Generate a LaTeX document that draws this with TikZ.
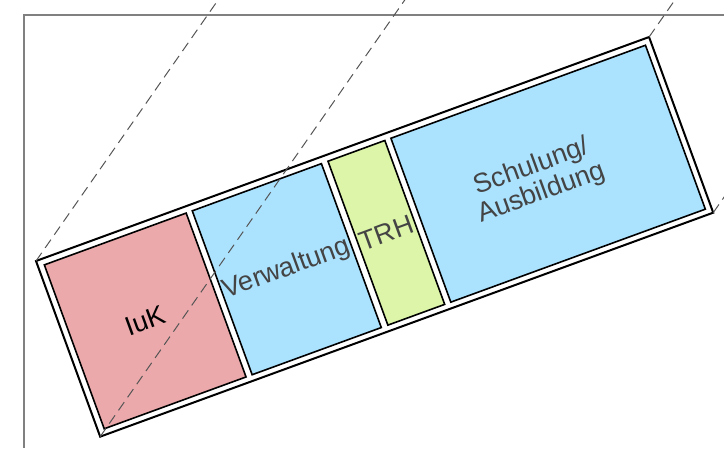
\documentclass[tikz,border=0pt]{standalone}
\usepackage{fontspec}
\setmainfont{Liberation Sans}
\definecolor{pinkbox}{HTML}{EBA9AB}
\definecolor{bluebox}{HTML}{ABE2FE}
\definecolor{greenbox}{HTML}{DCF5A8}
\definecolor{labelgray}{HTML}{444444}
\definecolor{framegray}{HTML}{808080}
\definecolor{dashgray}{HTML}{555555}
\begin{document}
\begin{tikzpicture}[x=1pt,y=-1pt,
  outerbox/.style={draw=black, line width=2pt, fill=white, minimum width=652.7pt, minimum height=187pt, inner sep=0pt, outer sep=0pt, transform shape},
  areabox/.style={draw=black, line width=1.6pt, minimum height=174.5pt, inner sep=0pt, outer sep=0pt, transform shape, font=\fontsize{27}{30}\selectfont, text=labelgray},
  lbl/.style={font=\fontsize{27}{28}\selectfont, text=labelgray, align=center, inner sep=0pt, transform shape},
  proj/.style={draw=dashgray, line width=1pt, dash pattern=on 10pt off 6pt},
  framelin/.style={draw=framegray, line width=1.2pt}]
\useasboundingbox (0,0) rectangle (724,448);
\clip (0,0) rectangle (724,448);
\draw[framelin] (724,15) -- (24,15) -- (24,448);
\begin{scope}[shift={(36,261)}, rotate=20.07]
  \node[outerbox] (outer) at (326.35,93.5) {};
  \node[areabox, fill=pinkbox, minimum width=151pt, text=black] (iuk) at (82,93.75) {IuK};
  \node[areabox, fill=bluebox, minimum width=137.5pt] (verw) at (232.75,93.75) {Verwaltung};
  \node[areabox, fill=greenbox, minimum width=60.5pt] (trh) at (338.75,93.75) {TRH};
  \node[areabox, fill=bluebox, minimum width=271pt] (schul) at (511,93.75) {};
  \node[lbl] (schullbl) at (498,96) {Schulung/\\Ausbildung};
\end{scope}
\draw[proj] (outer.north west) -- ++(-55.1:600);
\draw[proj] (outer.south west) -- ++(-55.1:600);
\draw[proj] (outer.north east) -- ++(-55.1:600);
\draw[proj] (outer.south east) -- ++(-55.1:600);
\end{tikzpicture}
\end{document}
